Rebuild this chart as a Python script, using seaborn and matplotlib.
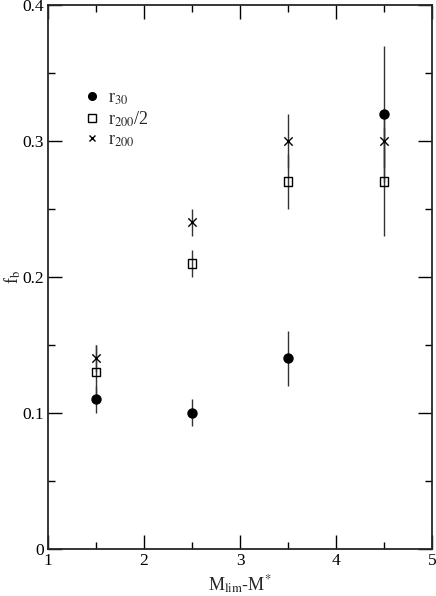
"""f_b versus M_lim - M* for three apertures."""
import matplotlib
matplotlib.use("Agg")
import matplotlib.pyplot as plt
import numpy as np
import pandas as pd
import seaborn as sns
from matplotlib.ticker import MultipleLocator, FuncFormatter

mag_diff = [1.5, 2.5, 3.5, 4.5]
fb_r30 = [0.11, 0.10, 0.14, 0.32]
err_r30 = [0.01, 0.01, 0.02, 0.05]
fb_r200_half = [0.13, 0.21, 0.27, 0.27]
err_r200_half = [0.02, 0.01, 0.02, 0.04]
fb_r200 = [0.14, 0.24, 0.30, 0.30]
err_r200 = [0.01, 0.01, 0.02, 0.02]
labels = [r"r$_{30}$", r"r$_{200}$/2", r"r$_{200}$"]

sns.set_style("ticks")
plt.rcParams["font.family"] = ["Liberation Serif", "DejaVu Serif"]
plt.rcParams["mathtext.fontset"] = "stix"

fig = plt.figure(figsize=(4.36, 5.96), dpi=100)
ax = fig.add_axes([0.110, 0.079, 0.881, 0.913])

series = [
    (fb_r30, err_r30, "o", "black", 42),
    (fb_r200_half, err_r200_half, "s", "none", 40),
    (fb_r200, err_r200, "x", "black", 36),
]

handles = []
for (vals, errs, mk, fc, size), lab in zip(series, labels):
    df = pd.DataFrame({"x": mag_diff, "y": vals, "e": errs})
    ax.errorbar(df["x"], df["y"], yerr=df["e"], fmt="none",
                ecolor="#333333", elinewidth=1.0, capsize=0, zorder=1)
    if mk == "x":
        sns.scatterplot(data=df, x="x", y="y", marker="x", color="black",
                        s=size, linewidth=1.0, ax=ax, zorder=3)
    else:
        sns.scatterplot(data=df, x="x", y="y", marker=mk, facecolor=fc,
                        edgecolor="black", s=size, linewidth=1.0, ax=ax, zorder=3)
    h = plt.Line2D([], [], ls="none", marker=mk, color="black",
                   markerfacecolor=fc, markeredgecolor="black",
                   markersize=5.5 if mk != "x" else 5.0, markeredgewidth=1.0)
    handles.append(h)

ax.set_xlim(1, 5)
ax.set_ylim(0, 0.4)
ax.xaxis.set_major_locator(MultipleLocator(1))
ax.xaxis.set_minor_locator(MultipleLocator(0.5))
ax.yaxis.set_major_locator(MultipleLocator(0.1))
ax.yaxis.set_minor_locator(MultipleLocator(0.05))
ax.yaxis.set_major_formatter(FuncFormatter(lambda v, p: "0" if abs(v) < 1e-9 else f"{v:.1f}"))
ax.tick_params(which="both", direction="in", top=True, right=True,
               labelsize=12.5, width=1.0, colors="black")
ax.tick_params(which="major", length=10, pad=3)
ax.tick_params(which="minor", length=5)
for sp in ax.spines.values():
    sp.set_linewidth(1.3)

ax.set_xlabel(r"M$_{\rm lim}$-M$^{*}$", fontsize=13, labelpad=3)
ax.set_ylabel(r"f$_{\rm b}$", fontsize=13)
ax.yaxis.set_label_coords(-0.065, 0.5)

ax.legend(handles, labels, loc="upper left", bbox_to_anchor=(0.048, 0.874),
          frameon=False, fontsize=13, handletextpad=0.4, labelspacing=0.15,
          handlelength=1.0)

fig.savefig("out.png", dpi=100)
